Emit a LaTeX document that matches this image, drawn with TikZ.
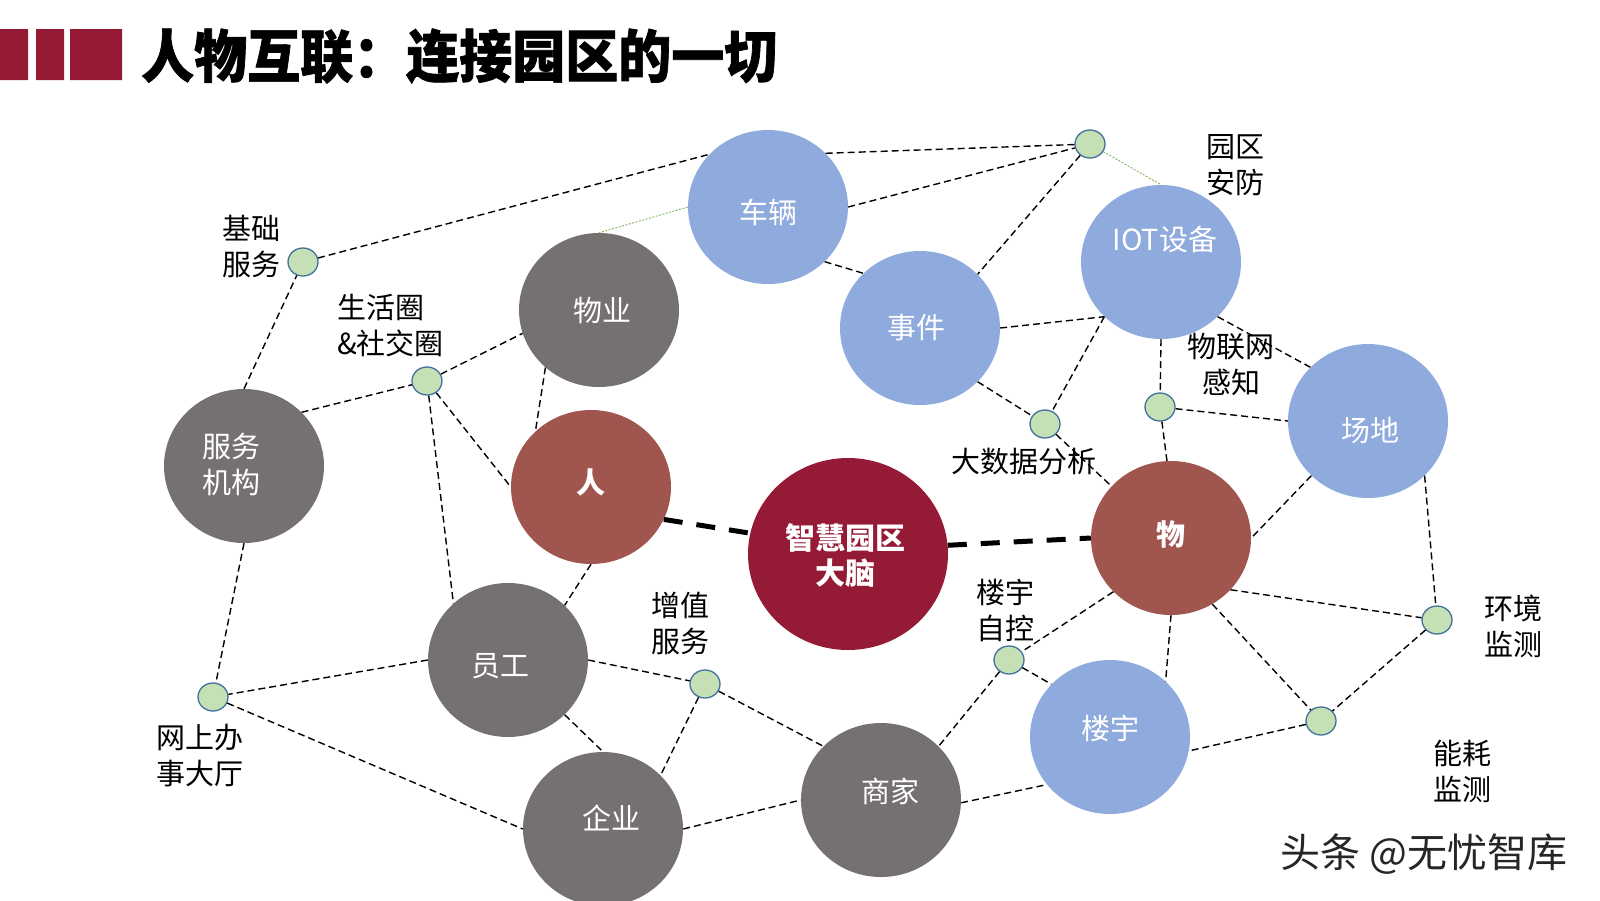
\documentclass[tikz,border=0pt]{standalone}
\usepackage{fontspec}
\setmainfont{Noto Sans CJK SC}
\newfontfamily\titlefont[FakeStretch=0.93, FakeBold=1.2]{Noto Sans CJK SC}
\usetikzlibrary{shapes.geometric}
\definecolor{titlered}{HTML}{951B35}
\definecolor{ballblue}{HTML}{8FAADC}
\definecolor{ballgray}{HTML}{767171}
\definecolor{ballred}{HTML}{A0564F}
\definecolor{brainred}{HTML}{951A35}
\definecolor{dotgreen}{HTML}{C5E0B4}
\definecolor{dotline}{HTML}{41719C}
\definecolor{thingreen}{HTML}{70AD47}
\begin{document}
\begin{tikzpicture}[x=1pt, y=-1pt, line join=round, font=\fontsize{29}{36}\selectfont]
\tikzset{
  ball/.style={ellipse, minimum width=160pt, minimum height=154pt, inner sep=0pt},
  blueball/.style={ball, fill=ballblue},
  grayball/.style={ball, fill=ballgray},
  redball/.style={ball, fill=ballred},
  gdot/.style={ellipse, draw=dotline, fill=dotgreen, line width=1.3pt, minimum width=30pt, minimum height=28pt, inner sep=0pt},
  lbl/.style={inner sep=0pt, align=left, anchor=west},
  ctext/.style={text=white, inner sep=0pt, align=center},
  dl/.style={dash pattern=on 7pt off 4pt, line width=1.4pt},
  gl/.style={draw=thingreen, dash pattern=on 2pt off 1.5pt, line width=0.8pt},
  tl/.style={dash pattern=on 19pt off 14pt, line width=5pt}
}
\useasboundingbox (0,0) rectangle (1600,900);
% title
\fill[titlered] (0,29) rectangle (28,80) (36,29) rectangle (64,80) (70,29) rectangle (122,80);
\node[anchor=west, inner sep=0pt, font=\fontsize{57}{60}\titlefont\bfseries] (title) at (141,56) {人物互联：连接园区的一切};
% big circles
\node[blueball, label={[ctext, name=che-t, yshift=-5pt]center:车辆}] (che) at (768,207) {};
\node[grayball, label={[ctext, name=wuye-t, xshift=3pt]center:物业}] (wuye) at (599,310) {};
\node[blueball, label={[ctext, name=shijian-t, xshift=-4pt]center:事件}] (shijian) at (920,328) {};
\node[blueball, label={[ctext, name=iot-t, xshift=4pt, yshift=23pt]center:IOT设备}] (iot) at (1161,262) {};
\node[blueball, label={[ctext, name=changdi-t, xshift=2pt, yshift=-9pt]center:场地}] (changdi) at (1368,421) {};
\node[grayball, label={[ctext, name=fuwu-t, xshift=-13pt, yshift=2pt]center:服务\\机构}] (fuwu) at (244,466) {};
\node[redball, label={[ctext, name=ren-t, yshift=5pt, font=\fontsize{29}{36}\selectfont\bfseries]center:人}] (ren) at (591,487) {};
\node[ball, fill=brainred, minimum width=200pt, minimum height=192pt, label={[ctext, name=naodao-t, xshift=-3pt, yshift=-2pt, font=\fontsize{30}{35}\selectfont\bfseries]center:智慧园区\\大脑}] (naodao) at (848,554) {};
\node[redball, label={[ctext, name=wu-t, yshift=4pt, font=\fontsize{29}{36}\selectfont\bfseries]center:物}] (wu) at (1171,538) {};
\node[grayball, label={[ctext, name=yuangong-t, xshift=-8pt, yshift=-6pt]center:员工}] (yuangong) at (508,660) {};
\node[grayball, label={[ctext, name=qiye-t, xshift=8pt, yshift=11pt]center:企业}] (qiye) at (603,829) {};
\node[grayball, label={[ctext, name=shangjia-t, xshift=9pt, yshift=9pt]center:商家}] (shangjia) at (881,800) {};
\node[blueball, label={[ctext, name=louyu-t, yshift=9pt]center:楼宇}] (louyu) at (1110,737) {};
% small dots
\node[gdot] (jichu) at (303,262) {};
\node[gdot] (shenghuo) at (427,381) {};
\node[gdot] (yuanqu) at (1090,144) {};
\node[gdot] (dashuju) at (1045,424) {};
\node[gdot] (wulian) at (1160,407) {};
\node[gdot] (wangshang) at (213,697) {};
\node[gdot] (zengzhi) at (705,684) {};
\node[gdot] (louzi) at (1009,660) {};
\node[gdot] (huanjing) at (1437,620) {};
\node[gdot] (nenghao) at (1321,721) {};
% connectors
\draw[dl] (jichu) -- (che.138);
\draw[dl] (che.43) -- (yuanqu);
\draw[dl] (che.0) -- (yuanqu);
\draw[dl] (yuanqu) -- (shijian.43);
\draw[gl] (yuanqu) -- (iot.90);
\draw[gl] (che.180) -- (wuye.90);
\draw[dl] (che.-44) -- (shijian.136);
\draw[dl] (shijian.0) -- (iot.224);
\draw[dl] (shijian.-43) -- (dashuju);
\draw[dl] (iot.224) -- (dashuju);
\draw[dl] (dashuju) -- (wu.139);
\draw[dl] (iot.270) -- (wulian);
\draw[dl] (wulian) -- (wu.93);
\draw[dl] (iot.-44) -- (changdi.137);
\draw[dl] (wulian) -- (changdi.180);
\draw[dl] (changdi.224) -- (wu.0);
\draw[dl] (changdi.-44) -- (huanjing);
\draw[dl] (wu.-41) -- (huanjing);
\draw[dl] (wu.-58) -- (nenghao);
\draw[dl] (huanjing) -- (nenghao);
\draw[dl] (nenghao) -- (louyu.-10);
\draw[dl] (wu.270) -- (louyu.45);
\draw[dl] (wu.223) -- (louzi);
\draw[dl] (louzi) -- (louyu.138);
\draw[dl] (louzi) -- (shangjia.43);
\draw[dl] (shangjia.-2) -- (louyu.217);
\draw[dl] (zengzhi) -- (shangjia.137);
\draw[dl] (yuangong.0) -- (zengzhi);
\draw[dl] (zengzhi) -- (qiye.43);
\draw[dl] (yuangong.-44) -- (qiye.90);
\draw[dl] (qiye.0) -- (shangjia.180);
\draw[dl] (yuangong.180) -- (wangshang);
\draw[dl] (wangshang) -- (qiye.180);
\draw[dl] (fuwu.270) -- (wangshang);
\draw[dl] (fuwu.90) -- (jichu);
\draw[dl] (fuwu.43) -- (shenghuo);
\draw[dl] (shenghuo) -- (wuye.197);
\draw[dl] (shenghuo) -- (yuangong.134);
\draw[dl] (shenghuo) -- (ren.180);
\draw[dl] (wuye.227) -- (ren.135);
\draw[dl] (ren.270) -- (yuangong.44);
\draw[tl] (ren.-24) -- (naodao.168);
\draw[tl] (naodao.5) -- (wu.180);
% labels
\node[lbl] (jichu-l) at (222,246) {基础\\服务};
\node[lbl] (shenghuo-l) at (337,326) {生活圈\\\&社交圈};
\node[lbl] (yuanqu-l) at (1206,165) {园区\\安防};
\node[inner sep=0pt, align=center] (wulian-l) at (1231,364) {物联网\\感知};
\node[inner sep=0pt] (dashuju-l) at (1024,462) {大数据分析};
\node[lbl] (zengzhi-l) at (651,623) {增值\\服务};
\node[lbl] (wangshang-l) at (156,756) {网上办\\事大厅};
\node[lbl] (louzi-l) at (976,610) {楼宇\\自控};
\node[lbl] (huanjing-l) at (1484,626) {环境\\监测};
\node[lbl] (nenghao-l) at (1433,771) {能耗\\监测};
\node[lbl, text=black!85, font=\fontsize{40}{42}\selectfont] (mark) at (1280,854) {头条 @无忧智库};
\end{tikzpicture}
\end{document}
